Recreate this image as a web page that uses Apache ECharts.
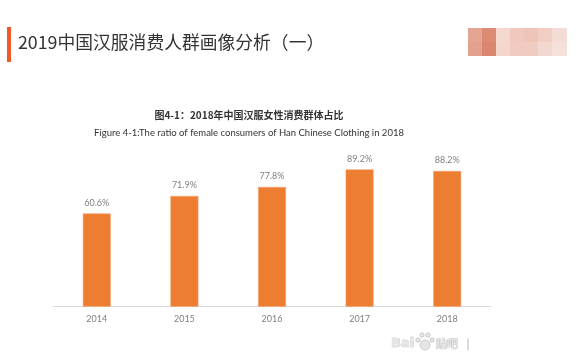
<!DOCTYPE html>
<html><head><meta charset="utf-8">
<script src="https://cdn.jsdelivr.net/npm/echarts@6/dist/echarts.min.js"></script>
<style>html,body{margin:0;padding:0;background:#fff}#c{width:580px;height:355px}</style>
</head><body><div id="c"></div>
<script>
const categories = ['2014','2015','2016','2017','2018'];
const values = [60.6, 71.9, 77.8, 89.2, 88.2];
const pageTitle = '2019中国汉服消费人群画像分析（一）';
const chartTitleCn = '图4-1：2018年中国汉服女性消费群体占比';
const chartTitleEn = 'Figure 4-1:The ratio of female consumers of Han Chinese Clothing in 2018';

const blurCols = [
  ['#e4a593','#e3a08d'],['#dd8a73','#db8670'],['#f5d8d0','#f4d6ce'],
  ['#f0c8be','#f1cbc1'],['#efc4b9','#f0cbc2'],['#f2cdc3','#f3d8d1'],['#f4dcd6','#f5e0da']
];
const blurGraphics = [];
blurCols.forEach((c, i) => {
  c.forEach((col, j) => {
    blurGraphics.push({type:'rect', shape:{x:468+i*14, y:28+j*14, width:i===6?15:14, height:14}, style:{fill:col}, silent:true});
  });
});
const wm = {fill:'#e6e6e6', stroke:'#b5b5b5', lineWidth:0.6};
const pawGraphics = [
  {type:'circle', shape:{cx:425, cy:345, r:5}, style:wm, silent:true},
  {type:'circle', shape:{cx:418, cy:340, r:2.2}, style:wm, silent:true},
  {type:'circle', shape:{cx:422, cy:335, r:2.2}, style:wm, silent:true},
  {type:'circle', shape:{cx:428, cy:335, r:2.2}, style:wm, silent:true},
  {type:'circle', shape:{cx:432, cy:340, r:2.2}, style:wm, silent:true}
];

const chart = echarts.init(document.getElementById('c'));
chart.setOption({
  animation:false,
  backgroundColor:'#fff',
  grid:{left:53, right:89, top:152.7, bottom:48.3},
  xAxis:{type:'category', data:categories,
    axisLine:{lineStyle:{color:'#d9d9d9', width:1}},
    axisTick:{show:false},
    axisLabel:{color:'#7f7f7f', fontSize:9, fontFamily:'Lato', margin:8}},
  yAxis:{type:'value', min:0, max:100, show:false, splitLine:{show:false}},
  series:[{type:'bar', data:values, barWidth:28,
    itemStyle:{color:'#ed7d31', borderColor:'#f3a878', borderWidth:0.6},
    label:{show:true, position:'top', distance:6, color:'#7f7f7f', fontSize:9, fontFamily:'Lato',
      formatter: p => p.value.toFixed(1) + '%'}}],
  graphic:[
    {type:'rect', shape:{x:7, y:27, width:4, height:35}, style:{fill:'#f05a28'}, silent:true},
    {type:'text', left:18, top:33, style:{text:pageTitle, fill:'#333', fontSize:17.8, fontFamily:'Noto Sans CJK SC'}},
    {type:'text', x:249, y:115, style:{text:chartTitleCn, fill:'#333', fontSize:10, fontWeight:'bold', fontFamily:'Noto Sans CJK SC', align:'center', verticalAlign:'middle'}},
    {type:'text', x:249, y:133, style:{text:chartTitleEn, fill:'#333', fontSize:9.5, fontFamily:'Lato', align:'center', verticalAlign:'middle'}},
    {type:'text', x:391, y:344, style:Object.assign({text:'Bai', fontSize:13, fontWeight:'bold', fontFamily:'DejaVu Sans', verticalAlign:'middle'}, wm)},
    {type:'text', x:436, y:344, style:Object.assign({text:'贴吧', fontSize:11, fontWeight:'bold', fontFamily:'Noto Sans CJK SC', verticalAlign:'middle'}, wm)},
    {type:'text', x:466, y:344, style:Object.assign({text:'|', fontSize:11, fontFamily:'DejaVu Sans', verticalAlign:'middle'}, wm)}
  ].concat(pawGraphics, blurGraphics)
});
</script></body></html>
